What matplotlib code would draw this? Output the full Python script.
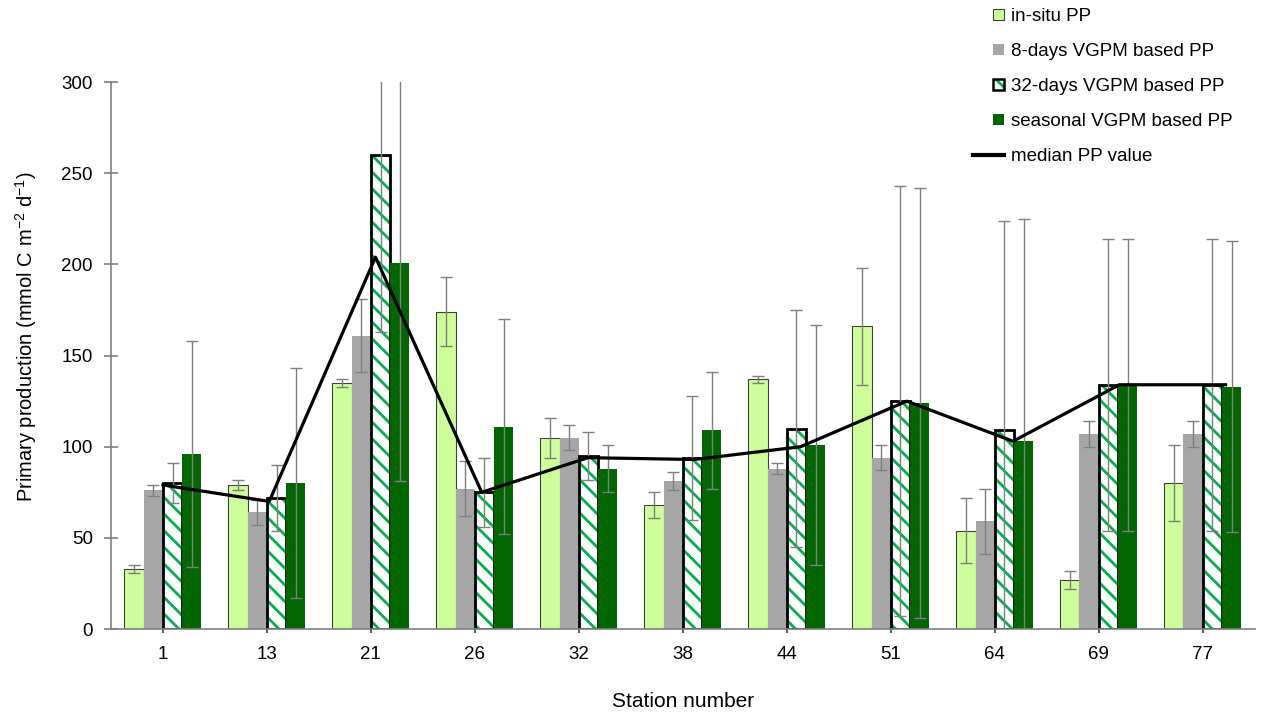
import numpy as np
import matplotlib.pyplot as plt
from matplotlib.legend_handler import HandlerLine2D, HandlerTuple
from matplotlib.patches import Patch
from matplotlib.lines import Line2D

plt.rcParams['font.family'] = ['Liberation Sans', 'DejaVu Sans']
plt.rcParams['mathtext.fontset'] = 'custom'
plt.rcParams['mathtext.rm'] = 'Liberation Sans'
plt.rcParams['hatch.linewidth'] = 2.0

stations = ['1', '13', '21', '26', '32', '38', '44', '51', '64', '69', '77']

insitu = [33, 79, 135, 174, 105, 68, 137, 166, 54, 27, 80]
insitu_err = [2, 3, 2, 19, 11, 7, 2, 32, 18, 5, 21]

days8 = [76, 64, 161, 77, 105, 81, 88, 94, 59, 107, 107]
days8_err = [3, 7, 20, 15, 7, 5, 3, 7, 18, 7, 7]

days32 = [80, 72, 260, 75, 95, 94, 110, 125, 109, 134, 134]
days32_err = [11, 18, 97, 19, 13, 34, 65, 118, 115, 80, 80]

seasonal = [96, 80, 201, 111, 88, 109, 101, 124, 103, 134, 133]
seasonal_err = [62, 63, 120, 59, 13, 32, 66, 118, 122, 80, 80]

median = [79, 70, 204, 75, 94, 93, 100, 125, 103, 134, 134]

x = np.arange(len(stations))
w = 0.185
ecol = '#7f7f7f'
ekw = dict(ecolor=ecol, elinewidth=1.0, capsize=4.5, capthick=1.0)

fig = plt.figure(figsize=(12.61, 7.16), dpi=100)
ax = fig.add_axes([0.088, 0.1215, 0.907, 0.7637])

ax.bar(x - 1.5 * w, insitu, w, color='#CCFF99', edgecolor='#404040', linewidth=0.8,
       yerr=insitu_err, error_kw=ekw)
ax.bar(x - 0.5 * w, days8, w, color='#A6A6A6', linewidth=0,
       yerr=days8_err, error_kw=ekw)
# hatched bar: green stripes, then black outline on top
ax.bar(x + 0.5 * w, days32, w, color='white', edgecolor='#00B050', hatch='\\\\', linewidth=0)
ax.bar(x + 0.5 * w, days32, w, fill=False, edgecolor='black', linewidth=2.0,
       yerr=days32_err, error_kw=ekw)
ax.bar(x + 1.5 * w, seasonal, w, color='#006600', linewidth=0,
       yerr=seasonal_err, error_kw=ekw)

# median line sits on a slightly stretched secondary category scale (as in the source)
xl = x * 1.022
ax.plot(xl, median, color='black', linewidth=2.3, zorder=5, clip_on=False)

ax.set_xlim(-0.5, 10.5)
ax.set_ylim(0, 300)
ax.set_yticks(np.arange(0, 301, 50))
ax.set_xticks(x)
ax.set_xticklabels(stations)

for s in ['top', 'right']:
    ax.spines[s].set_visible(False)
for s in ['left', 'bottom']:
    ax.spines[s].set_color('#808080')
    ax.spines[s].set_linewidth(1.2)

ax.tick_params(axis='y', direction='inout', length=10, width=1.2, color='#808080',
               labelsize=13.5, pad=8)
ax.tick_params(axis='x', direction='out', length=3, width=1.2, color='#404040',
               labelsize=13.5, pad=9)

ax.set_ylabel(r'Primary production (mmol C m$^{-2}$ d$^{-1}$)', fontsize=14.5)
ax.yaxis.set_label_coords(-0.063, 0.534)
ax.set_xlabel('Station number', fontsize=15, labelpad=21)


class LongLine(HandlerLine2D):
    def create_artists(self, legend, orig_handle, xdescent, ydescent, width, height,
                       fontsize, trans):
        return super().create_artists(legend, orig_handle, xdescent + 2.0 * width, ydescent,
                                      width * 3.0, height, fontsize, trans)


h_line = Line2D([], [], color='black', linewidth=3)
h_hatch = (Patch(facecolor='white', edgecolor='#00B050', hatch='\\\\', linewidth=0),
           Patch(fill=False, edgecolor='black', linewidth=1.8))
handles = [
    Patch(facecolor='#CCFF99', edgecolor='#404040', linewidth=0.8),
    Patch(facecolor='#A6A6A6', linewidth=0),
    h_hatch,
    Patch(facecolor='#006600', linewidth=0),
    h_line,
]
labels = ['in-situ PP', '8-days VGPM based PP', '32-days VGPM based PP',
          'seasonal VGPM based PP', 'median PP value']
fig.legend(handles, labels, loc='upper left', bbox_to_anchor=(0.7811, 1.0),
           frameon=False, fontsize=13.5, handlelength=0.55, handleheight=0.55,
           handletextpad=0.4, labelspacing=0.96, borderaxespad=0.25, borderpad=0.2,
           handler_map={h_line: LongLine(), h_hatch: HandlerTuple(ndivide=1, pad=0)})

fig.savefig('out.png', dpi=100)
